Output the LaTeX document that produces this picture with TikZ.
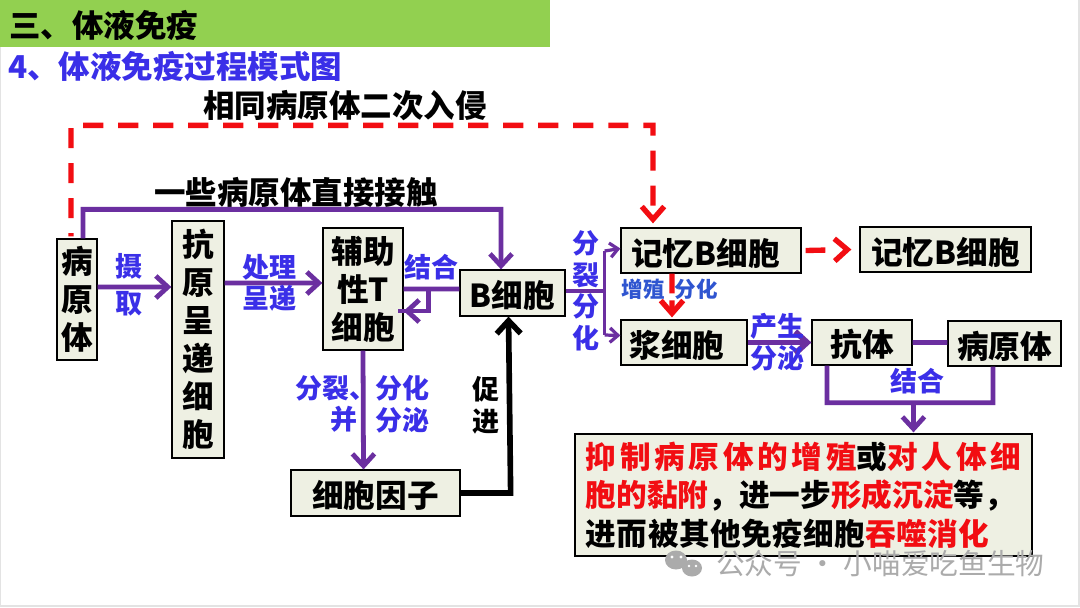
\documentclass[tikz,border=0pt]{standalone}
\usepackage{fontspec}
\setmainfont{Noto Sans CJK SC}
\usetikzlibrary{arrows.meta}
\definecolor{boxfill}{HTML}{EEF0E3}
\definecolor{bannergreen}{HTML}{92D050}
\definecolor{arrpurple}{HTML}{6B2FA0}
\definecolor{labblue}{HTML}{3A2FE8}
\definecolor{smallblue}{HTML}{2F55D0}
\definecolor{hotred}{HTML}{F20D12}
\definecolor{markgray}{HTML}{ABABAB}
\newcommand{\hot}[1]{\textcolor{hotred}{#1}}

\begin{document}
\begin{tikzpicture}[
    x=0.25mm, y=-0.25mm,
    box/.style={
        draw, rectangle, line width=0.9pt, fill=boxfill,
        inner sep=0pt, align=center,
        execute at begin node={\rule{0pt}{1.02em}},
        font=\fontsize{22.5}{27}\selectfont\bfseries
    },
    head/.style={anchor=west, inner sep=0pt, font=\fontsize{22.4}{26}\selectfont\bfseries},
    lab/.style={inner sep=0pt, align=center, text=labblue,
        font=\fontsize{19.2}{22.5}\selectfont\bfseries},
    arr/.style={-{Straight Barb[length=3mm, width=5.5mm]}, line width=3.4pt, arrpurple},
    seg/.style={line width=3.4pt, arrpurple},
    thinarr/.style={-{Straight Barb[length=2mm, width=3.6mm]}, line width=2.3pt, arrpurple},
    blk/.style={-{Straight Barb[length=3.2mm, width=6mm]}, line width=4pt, black},
    redarr/.style={-{Straight Barb[length=3.2mm, width=5.6mm]}, line width=3.8pt, hotred}
]

%% ---- Sheet and banner ----
\useasboundingbox (0,0) rectangle (1080,607);
\fill[gray!22] (0,0) rectangle (1080,607);
\fill[white] (1,0) rectangle (1078,605);
\fill[bannergreen] (0,0) rectangle (550,47);

\node[head] at (9,25) (title) {三、体液免疫};
\node[head, text=labblue] at (8,66) (subtitle) {4、体液免疫过程模式图};
\node[head, anchor=center] at (345,106) (again) {相同病原体二次入侵};
\node[head, anchor=center] at (296,192) (direct) {一些病原体直接接触};

%% ---- Boxes at explicit (x,y) positions ----

% Left part
\node[box, minimum width=1cm, minimum height=3.025cm] at (77,299.5) (path1) {病\\原\\体};
\node[box, minimum width=1.3cm, minimum height=5.925cm] at (198,339.5) (anti) {抗\\原\\呈\\递\\细\\胞};
\node[box, minimum width=2cm, minimum height=3.05cm] at (363,289) (helper) {辅助\\性T\\细胞};
\node[box, minimum width=2.625cm, minimum height=1.15cm] at (512.5,293) (bcell) {B细胞};
\node[box, minimum width=4.225cm, minimum height=1.15cm] at (375.5,493) (cyto) {细胞因子};

% Right part
\node[box, minimum width=4.5cm, minimum height=1.125cm] at (711,250.5) (mem1) {记忆B细胞\kern8pt};
\node[box, minimum width=4.275cm, minimum height=1.125cm] at (945.5,249.5) (mem2) {记忆B细胞};
\node[box, minimum width=3.15cm, minimum height=1.125cm] at (684,342.5) (plasma) {浆细胞\kern10pt};
\node[box, minimum width=2.5cm, minimum height=1.125cm] at (862,342.5) (ab) {抗体};
\node[box, minimum width=2.825cm, minimum height=1.125cm] at (1004.5,343.5) (path2) {病原体};

% Result box
\node[box, minimum width=11.425cm, minimum height=3.05cm, align=left,
      font=\fontsize{21.8}{27.4}\selectfont\bfseries] at (803.5,495) (result) {%
    {\addfontfeature{LetterSpace=12}\hot{抑制病原体的增殖}或\hot{对人体细}}\\
    \hot{胞的黏附}，进一步\hot{形成沉淀}等，\\
    {\addfontfeature{LetterSpace=1.5}进而被其他免疫细胞\hot{吞噬消化}}\kern16pt};

%% ---- Arrows ----

% Red dashed return path
\draw[redarr, dash pattern=on 14.3pt off 10.6pt, dash phase=12pt] ([xshift=-.15cm, yshift=.05cm]path1.north) -- ++(0,-111) -- ++(582,0)
    -- ([xshift=-1.45cm, yshift=.1cm]mem1.north);

% Direct contact
\draw[arr] ([xshift=.15cm]path1.north) -- ++(0,-29) -- ++(418,0) -- ([xshift=-.2875cm]bcell.north);

% Main pipeline
\draw[arr] ([yshift=.3125cm]path1.east) -- ([yshift=1.3125cm]anti.west);
\draw[arr] ([yshift=1.4125cm]anti.east) -- ([yshift=.15cm]helper.west);
\draw[seg] ([yshift=.1cm]bcell.west) -- (helper.east);
\draw[seg] ([xshift=.625cm, yshift=0cm]helper.east) -- ++(0,22) -- ++(-31,0);
\draw[arr] ([xshift=.6cm, yshift=-.55cm]helper.east) -- ([yshift=-.55cm]helper.east);
\draw[arr] (helper.south) -- ([xshift=-.3cm]cyto.north);
\draw[blk] (cyto.east) -- ++(50,0) -- ([xshift=-.1cm]bcell.south);

% Split after B cell
\draw[seg] ([yshift=.05cm]bcell.east) -- ++(39,0);
\draw[thinarr] ([xshift=.975cm, yshift=1.05cm]bcell.east) -- ([yshift=.05cm]mem1.west);
\draw[thinarr] ([xshift=.975cm, yshift=-1.05cm]bcell.east) -- ([yshift=.175cm]plasma.west);
\draw[line width=2.3pt, arrpurple] ([xshift=.975cm, yshift=1.05cm]bcell.east) -- ([xshift=.975cm, yshift=-1.05cm]bcell.east);

% Memory cells
\draw[redarr, dash pattern=on 14pt off 20pt] ([xshift=.1cm]mem1.east) -- ([xshift=-.2cm]mem2.west);
\draw[redarr, dash pattern=on 14pt off 5pt] ([xshift=-.975cm]mem1.south) -- ([xshift=-.3cm, yshift=.05cm]plasma.north);

% Antibody
\draw[arr, line width=4pt] (plasma.east) -- (ab.west);
\draw[seg] (ab.east) -- ([yshift=.025cm]path2.west);
\draw[seg] ([xshift=-.875cm]ab.south) -- ++(0,37) -- ++(166,0) -- ([xshift=-.2875cm]path2.south);
\draw[arr] ([xshift=2.55cm]ab.south west) ++(0,37) -- ([xshift=2.75cm, yshift=.025cm]result.north);

%% ---- Labels ----
\node[lab] at (129,285) (take) {摄\\[4pt]取};
\node[lab] at (269,283) (show) {处理\\呈递};
\node[lab] at (431,267) (bind1) {结合};
\node[lab] at (586,291) (split) {分\\裂\\分\\化};
\node[lab, text=smallblue, font=\fontsize{15.3}{18}\selectfont\bfseries] at (643,289) (grow) {增殖};
\node[lab, text=smallblue, font=\fontsize{15.3}{18}\selectfont\bfseries] at (696,289) (diff) {分化};
\node[lab] at (777,342) (make) {产生\\分泌};
\node[lab] at (917,381) (bind2) {结合};
\node[lab, align=right, anchor=east] at (358,404) (split2) {分裂、\kern-13pt\\并};
\node[lab] at (402,404) (diff2) {分化\\分泌};
\node[lab, text=black] at (486,405) (boost) {促\\进};

%% ---- Watermark ----
\fill[markgray] (676,560) ellipse (11 and 9.5);
\fill[markgray] (692,568) ellipse (10 and 8.5);
\fill[white] (672,557) circle (1.6) (681,557) circle (1.6) (689,566) circle (1.4) (696,566) circle (1.4);
\node[anchor=west, inner sep=0pt, text=markgray, font=\fontsize{20.4}{24}\selectfont] at (716,564) (mark) {公众号 · 小喵爱吃鱼生物};

\end{tikzpicture}
\end{document}
